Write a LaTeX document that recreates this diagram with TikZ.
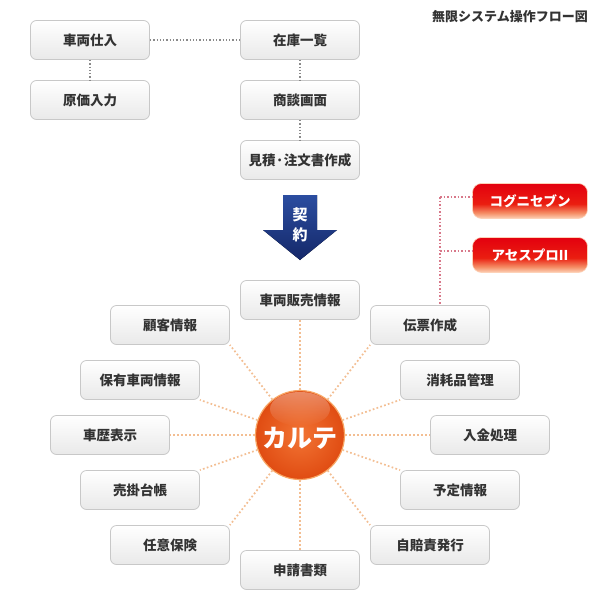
\documentclass[tikz,border=0pt]{standalone}
\usepackage{fontspec}
\setmainfont{Noto Sans CJK JP}
\usetikzlibrary{fadings}
\definecolor{boxborder}{HTML}{C8C8C8}
\definecolor{boxtop}{HTML}{FFFFFF}
\definecolor{boxbot}{HTML}{E9E9E9}
\definecolor{txt}{HTML}{333333}
\definecolor{graydot}{HTML}{8A8A8A}
\definecolor{orangedot}{HTML}{F3BE92}
\definecolor{pinkdot}{HTML}{D8788A}
\definecolor{redtop}{HTML}{E3000F}
\definecolor{redmid}{HTML}{EA1E10}
\definecolor{redlow}{HTML}{F58E66}
\definecolor{redbot}{HTML}{FDD2B8}
\definecolor{navytop}{HTML}{2B4DA0}
\definecolor{navybot}{HTML}{152869}
\definecolor{ballin}{HTML}{F27434}
\definecolor{ballout}{HTML}{E04C12}
\definecolor{ballrim}{HTML}{F8A766}
\pgfdeclareverticalshading{redgrad}{100bp}{color(0bp)=(redbot); color(25bp)=(redbot); color(33bp)=(redlow); color(46bp)=(redmid); color(75bp)=(redtop); color(100bp)=(redtop)}
\tikzset{
  graybox/.style={draw=boxborder, line width=0.8pt, rounded corners=6pt,
    top color=boxtop, bottom color=boxbot, minimum width=119pt, minimum height=39pt,
    inner sep=0pt, text=txt, font=\fontsize{13.5}{16}\selectfont\bfseries},
  redbox/.style={draw=redbot, line width=0.6pt, rounded corners=9pt, shading=redgrad,
    minimum width=115pt, minimum height=35pt, inner sep=0pt, text=white,
    font=\fontsize{13.5}{16}\selectfont\bfseries},
  grayline/.style={graydot, line width=1.3pt, dash pattern=on 1.3pt off 2pt},
  orangeline/.style={orangedot, line width=1.7pt, dash pattern=on 1.7pt off 2.3pt},
  pinkline/.style={pinkdot, line width=1.5pt, dash pattern=on 1.5pt off 2pt},
}
\begin{document}
\begin{tikzpicture}[x=1pt,y=-1pt]
\useasboundingbox[fill=white] (0,0) rectangle (600,600);

% title
\node[anchor=east, text=txt, inner sep=0pt, font=\fontsize{13}{15}\selectfont\bfseries] (title) at (588,17) {無限システム操作フロー図};

% top flow
\node[graybox] (shiire) at (90,40) {車両仕入};
\node[graybox] (genka) at (90,100) {原価入力};
\node[graybox] (zaiko) at (300,40) {在庫一覧};
\node[graybox] (shodan) at (300,100) {商談画面};
\node[graybox] (mitsu) at (300,160) {見積·注文書作成};
\draw[grayline] (shiire) -- (zaiko);
\draw[grayline] (shiire) -- (genka);
\draw[grayline] (zaiko) -- (shodan);
\draw[grayline] (shodan) -- (mitsu);

% contract arrow
\fill[top color=navytop, bottom color=navybot]
  (283,195) -- (317,195) -- (317,230) -- (337,230) -- (300,260) -- (263,230) -- (283,230) -- cycle;
\node[text=white, align=center, inner sep=0pt, font=\fontsize{15}{20}\selectfont\bfseries] (keiyaku) at (300,225) {契\\約};

% red boxes
\node[redbox] (cogni) at (530,201) {コグニセブン};
\node[redbox] (asesu) at (530,255) {アセスプロII};

% radial boxes
\node[graybox] (hanbai) at (300,300) {車両販売情報};
\node[graybox] (kokyaku) at (170,325) {顧客情報};
\node[graybox] (denpyo) at (430,325) {伝票作成};
\node[graybox] (hoyu) at (140,380) {保有車両情報};
\node[graybox] (shomo) at (460,380) {消耗品管理};
\node[graybox] (shareki) at (110,435) {車歴表示};
\node[graybox] (nyukin) at (490,435) {入金処理};
\node[graybox] (urikake) at (140,490) {売掛台帳};
\node[graybox] (yotei) at (460,490) {予定情報};
\node[graybox] (nini) at (170,545) {任意保険};
\node[graybox] (jibai) at (430,545) {自賠責発行};
\node[graybox] (shinsei) at (300,570) {申請書類};

% pink connectors
\coordinate (pa) at (440,197);
\coordinate (pb) at (440,251);
\draw[pinkline] (pa) -- (pa -| cogni.west);
\draw[pinkline] (pb) -- (pb -| asesu.west);
\draw[pinkline] (pa) -- (pa |- denpyo.north);

% center ball
\node[circle, minimum size=89pt, inner sep=0pt, draw=ballrim, line width=1.2pt,
  inner color=ballin, outer color=ballout] (karte) at (300,435) {};
\fill[white, opacity=0.35, path fading=south] (300,409) ellipse [x radius=30, y radius=17];
\node[text=white, inner sep=0pt, font=\fontsize{25}{28}\selectfont\bfseries] (kartetext) at (300,438) {カルテ};

% orange connectors
\draw[orangeline] (karte) -- (hanbai);
\draw[orangeline] (karte) -- (shinsei);
\draw[orangeline] (karte) -- (shareki);
\draw[orangeline] (karte) -- (nyukin);
\draw[orangeline] (karte) -- (kokyaku.south east);
\draw[orangeline] (karte) -- (denpyo.south west);
\draw[orangeline] (karte) -- (hoyu.south east);
\draw[orangeline] (karte) -- (shomo.south west);
\draw[orangeline] (karte) -- (urikake.north east);
\draw[orangeline] (karte) -- (yotei.north west);
\draw[orangeline] (karte) -- (nini.north east);
\draw[orangeline] (karte) -- (jibai.north west);
\end{tikzpicture}
\end{document}
